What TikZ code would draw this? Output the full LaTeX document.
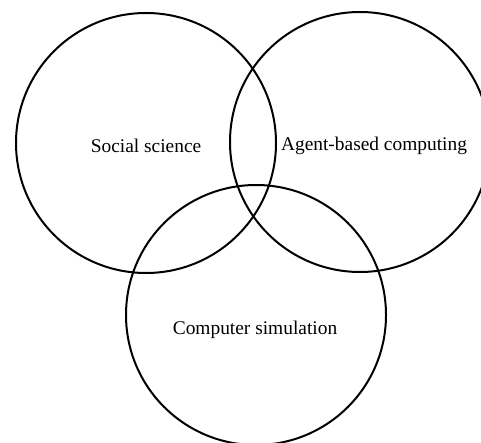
\documentclass[tikz,border=0pt]{standalone}
\usepackage{fontspec}
\setmainfont{Liberation Serif}
\usetikzlibrary{positioning}

\begin{document}
\begin{tikzpicture}[x=0.5pt, y=-0.5pt, every node/.style={font=\fontsize{9.7}{11}\selectfont}]
    \useasboundingbox (0,0) rectangle (481,443);

    % Three overlapping sets
    \tikzset{venn/.style={draw, circle, line width=1pt, minimum size=130pt, inner sep=0pt}}
    \node[venn] (soc) at (146,143) {};
    \node[venn] (abc) at (360,142) {};
    \node[venn] (sim) at (256,315) {};

    % Set labels
    \node (soclabel) at (146,146) {Social science};
    \node (abclabel) at (374,146) {Agent-based computing};
    \node (simlabel) at (255,330) {Computer simulation};
\end{tikzpicture}
\end{document}
